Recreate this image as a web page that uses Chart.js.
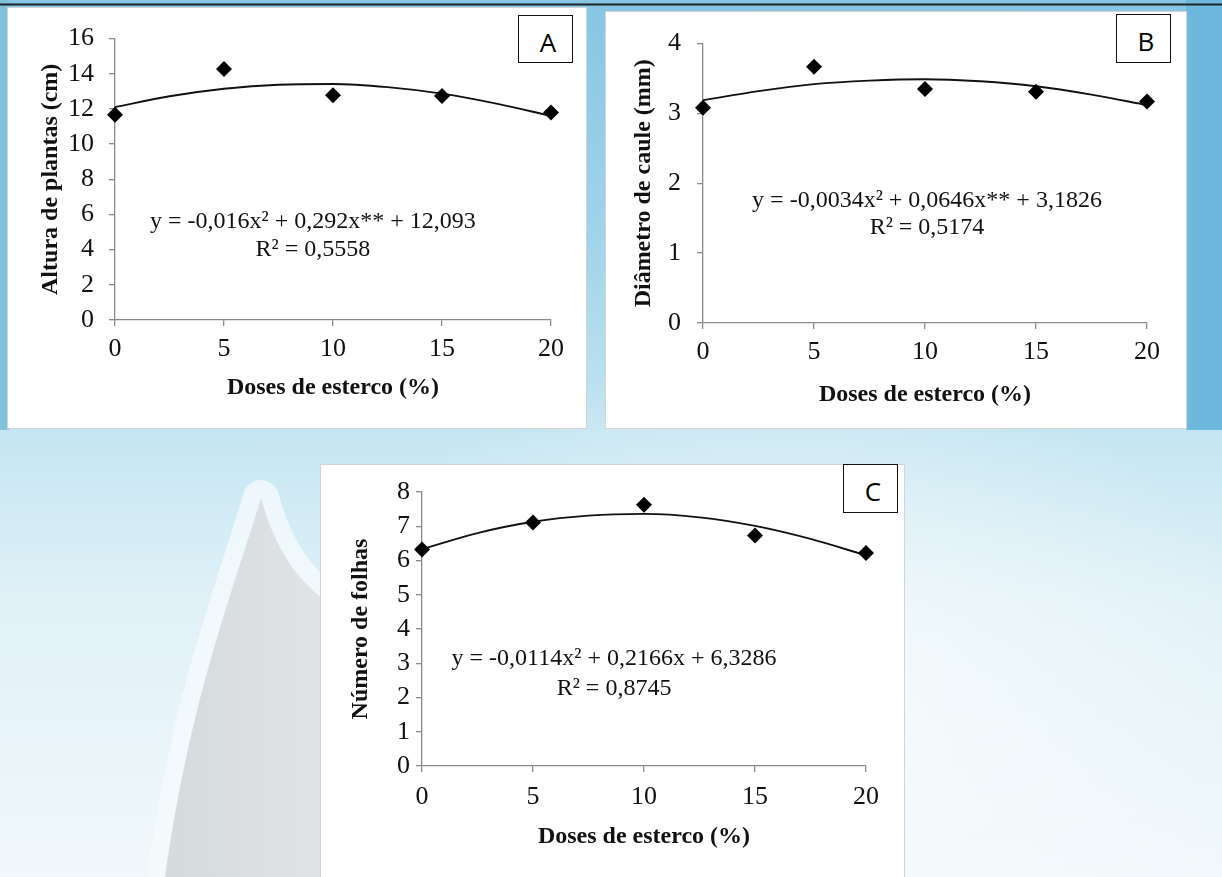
<!DOCTYPE html>
<html>
<head>
<meta charset="utf-8">
<script src="https://cdn.jsdelivr.net/npm/chart.js@4.4.1/dist/chart.umd.min.js"></script>
<style>
  body {
    margin: 0;
    width: 1222px;
    height: 877px;
    overflow: hidden;
    position: relative;
    background:
      radial-gradient(ellipse 520px 360px at 780px 720px, rgba(248,252,253,0.95), rgba(248,252,253,0)),
      linear-gradient(180deg, #86c5e3 0px, #a4d5eb 260px, #c6e6f2 440px, #e0f1f7 600px, #f1f8fb 877px);
  }
  .deco { position: absolute; }
  .panel { position: absolute; background: #fff; box-shadow: 0 0 0 1px #d2d4d6; }
  .panel canvas { display: block; }
  .tag {
    position: absolute;
    box-sizing: border-box;
    border: 1.5px solid #111;
    background: #fff;
    font: 26px "Open Sans", "Liberation Sans", sans-serif;
    color: #000;
    display: flex;
    align-items: center;
    justify-content: center;
    padding: 5px 0 0 5px;
  }
</style>
</head>
<body>
<svg class="deco" width="1222" height="877" style="left:0;top:0">
  <defs>
    <linearGradient id="petal" x1="0" y1="0" x2="1" y2="0">
      <stop offset="0" stop-color="#d5dadd"/>
      <stop offset="1" stop-color="#e0e4e6"/>
    </linearGradient>
  </defs>
  <rect x="1186" y="0" width="36" height="430" fill="#6fb8dd"/>
  <rect x="0" y="0" width="9" height="430" fill="#80c2d8"/>
  <path d="M261 498 C 230 600, 190 700, 165 877 L 330 877 L 330 603 C 300 585, 275 550, 261 498 Z"
        fill="none" stroke="#f5fafc" stroke-width="36" stroke-opacity="0.8" stroke-linejoin="round"/>
  <path d="M261 498 C 230 600, 190 700, 165 877 L 330 877 L 330 603 C 300 585, 275 550, 261 498 Z"
        fill="url(#petal)"/>
  <rect x="0" y="3.5" width="1222" height="2" fill="#1d2326"/>
</svg>

<div class="panel" style="left:8px;top:8px;width:578px;height:420px">
  <canvas id="chartA" width="578" height="420"></canvas>
</div>
<div class="panel" style="left:606px;top:12px;width:580px;height:416px">
  <canvas id="chartB" width="580" height="416"></canvas>
</div>
<div class="panel" style="left:321px;top:465px;width:583px;height:412px">
  <canvas id="chartC" width="583" height="412"></canvas>
</div>

<div class="tag" style="left:518px;top:15px;width:55px;height:48px">A</div>
<div class="tag" style="left:1116px;top:14px;width:55px;height:49px">B</div>
<div class="tag" style="left:843px;top:464px;width:55px;height:49px">C</div>

<script>
"use strict";

// doses de esterco (%)
const doses = [0, 5, 10, 15, 20];
const fitDoses = [0, 2.5, 5, 7.5, 10, 12.5, 15, 17.5, 20];

// A - altura de plantas (cm)
const alturaMedia = [11.67, 14.27, 12.78, 12.73, 11.8];
const alturaAjuste = [12.1, 12.72, 13.15, 13.38, 13.42, 13.24, 12.87, 12.3, 11.6];

// B - diametro de caule (mm)
const diametroMedia = [3.08, 3.67, 3.35, 3.31, 3.17];
const diametroAjuste = [3.19, 3.32, 3.42, 3.47, 3.49, 3.46, 3.39, 3.27, 3.12];

// C - numero de folhas
const folhasMedia = [6.32, 7.11, 7.63, 6.73, 6.22];
const folhasAjuste = [6.33, 6.8, 7.13, 7.31, 7.36, 7.26, 7.01, 6.63, 6.15];

const xTicks = [0, 5, 10, 15, 20];
const eqA = ['y = -0,016x² + 0,292x** + 12,093', 'R² = 0,5558'];
const eqB = ['y = -0,0034x² + 0,0646x** + 3,1826', 'R² = 0,5174'];
const eqC = ['y = -0,0114x² + 0,2166x + 6,3286', 'R² = 0,8745'];

const serif = '"Liberation Serif", "Times New Roman", serif';
const axisGray = '#8a8a8a';

const equationLabel = {
    id: 'equationLabel',
    afterDatasetsDraw(chart, args, opts) {
        const { ctx, scales } = chart;
        ctx.save();
        ctx.font = `24px ${serif}`;
        ctx.fillStyle = '#111';
        ctx.textAlign = 'center';
        ctx.textBaseline = 'middle';
        const px = scales.x.getPixelForValue(opts.at[0]);
        opts.lines.forEach((line, i) => {
            ctx.fillText(line, px, scales.y.getPixelForValue(opts.at[i + 1]));
        });
        ctx.restore();
    }
};

function toXY(xs, ys) {
    return xs.map((x, i) => ({ x: x, y: ys[i] }));
}

function drawPanel(id, o) {
    new Chart(document.getElementById(id), {
        type: 'scatter',
        data: {
            datasets: [{
                data: toXY(doses, o.media),
                pointStyle: 'rectRot',
                pointRadius: 8,
                backgroundColor: '#000',
                borderColor: '#000',
                borderWidth: 0,
                clip: false
            }, {
                type: 'line',
                data: toXY(fitDoses, o.ajuste),
                borderColor: '#111',
                borderWidth: 1.9,
                pointRadius: 0,
                tension: 0.4,
                cubicInterpolationMode: 'monotone',
                fill: false,
                clip: false
            }]
        },
        options: {
            responsive: false,
            animation: false,
            events: [],
            layout: { padding: o.pad },
            plugins: {
                legend: { display: false },
                tooltip: { enabled: false },
                equationLabel: { lines: o.eq, at: o.eqAt }
            },
            scales: {
                x: {
                    type: 'linear',
                    min: 0,
                    max: 20,
                    afterBuildTicks: s => { s.ticks = xTicks.map(v => ({ value: v })); },
                    afterFit: s => { s.height = o.xH; },
                    ticks: { padding: o.xTickPad, color: '#111', font: { family: serif, size: 26 } },
                    grid: { drawOnChartArea: false, drawTicks: true, tickLength: 6, color: axisGray, lineWidth: 1.3 },
                    border: { color: axisGray, width: 1.3 },
                    title: {
                        display: true,
                        text: 'Doses de esterco (%)',
                        color: '#111',
                        font: { family: serif, size: 24, weight: 'bold' },
                        padding: { top: 0, bottom: 8 }
                    }
                },
                y: {
                    min: 0,
                    max: o.yMax,
                    afterFit: s => { s.width = o.yW; },
                    ticks: { stepSize: o.yStep, padding: o.yTickPad, color: '#111', font: { family: serif, size: 26 } },
                    grid: { drawOnChartArea: false, drawTicks: true, tickLength: 6, color: axisGray, lineWidth: 1.3 },
                    border: { color: axisGray, width: 1.3 },
                    title: {
                        display: true,
                        text: o.yTitle,
                        color: '#111',
                        font: { family: serif, size: 24, weight: 'bold' },
                        padding: { top: o.yTitlePad, bottom: 0 }
                    }
                }
            }
        },
        plugins: [equationLabel]
    });
}

drawPanel('chartA', {
    media: alturaMedia, ajuste: alturaAjuste, eq: eqA, eqAt: [9.08, 5.6, 3.97],
    yTitle: 'Altura de plantas (cm)', yMax: 16, yStep: 2,
    pad: { left: 20, top: 26, right: 35, bottom: 18 },
    yW: 87, xH: 90, yTickPad: 15, xTickPad: 8, yTitlePad: 8
});

drawPanel('chartB', {
    media: diametroMedia, ajuste: diametroAjuste, eq: eqB, eqAt: [10.09, 1.75, 1.36],
    yTitle: 'Diâmetro de caule (mm)', yMax: 4, yStep: 1,
    pad: { left: 15, top: 25, right: 39, bottom: 11 },
    yW: 82, xH: 94, yTickPad: 16, xTickPad: 8, yTitlePad: 8
});

drawPanel('chartC', {
    media: folhasMedia, ajuste: folhasAjuste, eq: eqC, eqAt: [8.65, 3.12, 2.25],
    yTitle: 'Número de folhas', yMax: 8, yStep: 1,
    pad: { left: 16, top: 27, right: 38, bottom: 18 },
    yW: 85, xH: 93, yTickPad: 6, xTickPad: 10, yTitlePad: 9
});
</script>
</body>
</html>
